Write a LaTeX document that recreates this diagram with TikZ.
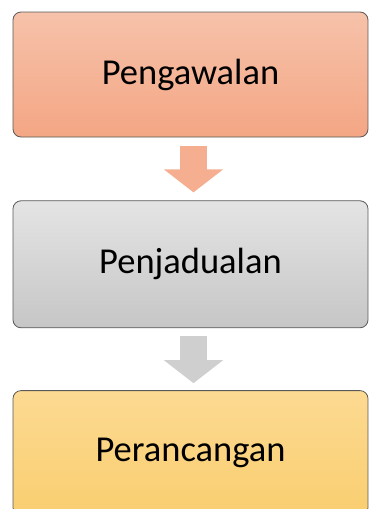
\documentclass[tikz,border=0pt]{standalone}
\usepackage{fontspec}
\setmainfont{Carlito}
\usepackage{tikz}
\usetikzlibrary{arrows.meta,
positioning
}
\definecolor{salmonTop}{RGB}{246,194,170}
\definecolor{salmonBot}{RGB}{244,166,132}
\definecolor{greyTop}{RGB}{228,228,228}
\definecolor{greyBot}{RGB}{198,198,198}
\definecolor{goldTop}{RGB}{252,218,146}
\definecolor{goldBot}{RGB}{250,206,112}
\tikzset{
  stage/.style={rectangle, rounded corners=8pt, draw=black!65, line width=0.8pt,
    minimum width=355pt, minimum height=125pt, inner sep=0pt,
    font=\fontsize{36.5}{42}\selectfont},
  flow/.style={line width=27pt, -{Triangle[width=58pt, length=23pt]}}
}

\begin{document}
\begin{tikzpicture}[x=1pt, y=1pt]
    \useasboundingbox (0,0) rectangle (369,-509);
    \clip (0,0) rectangle (369,-509);
    \node[stage, top color=salmonTop, bottom color=salmonBot] (peng) at (190.5,-74.5) {Pengawalan};
    \node[stage, top color=greyTop, bottom color=greyBot, minimum height=127pt, below=63pt of peng] (jadual) {Penjadualan};
    \node[stage, top color=goldTop, bottom color=goldBot, below=62pt of jadual] (rancang) {Perancangan};
    \draw[flow, draw=salmonBot!90] ([xshift=3pt, yshift=-9pt]peng.south) -- ([xshift=3pt, yshift=8pt]jadual.north);
    \draw[flow, draw=greyBot!85] ([xshift=3pt, yshift=-8pt]jadual.south) -- ([xshift=3pt, yshift=7pt]rancang.north);
\end{tikzpicture}
\end{document}
